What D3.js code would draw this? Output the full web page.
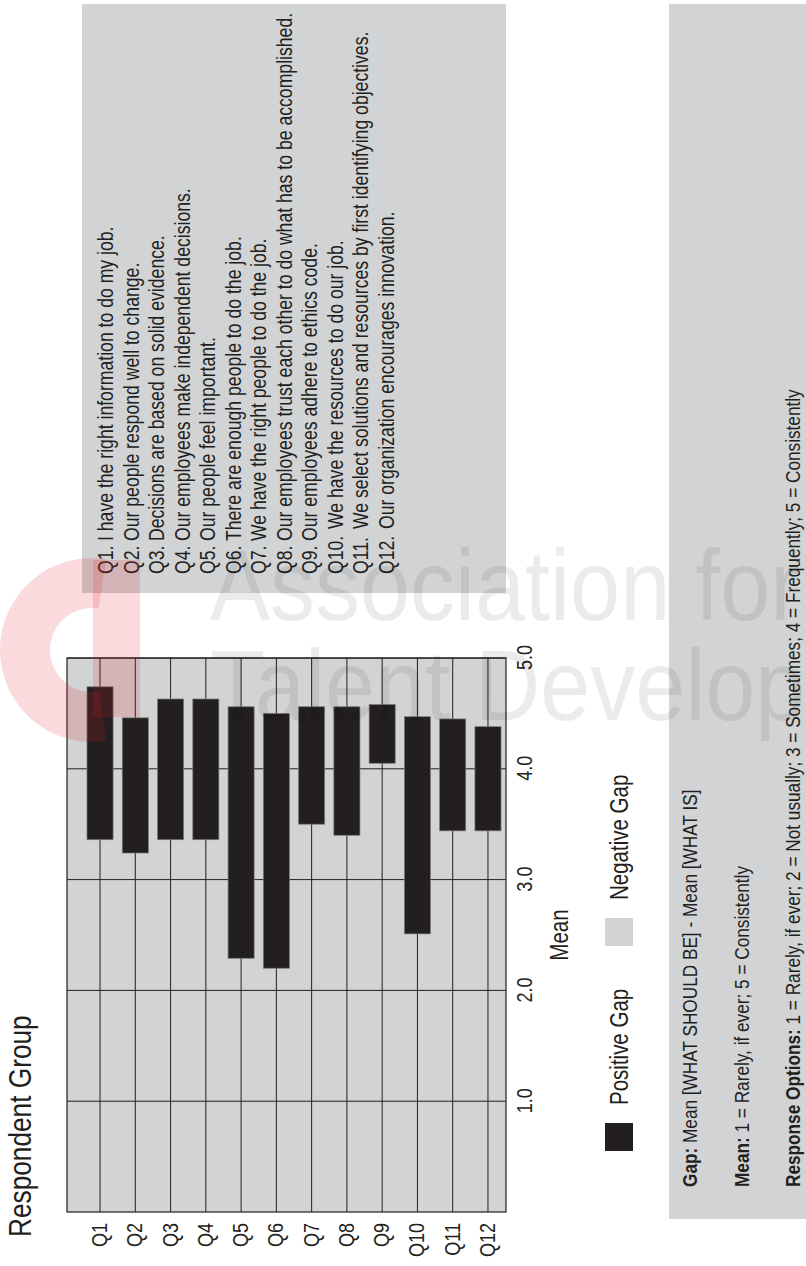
<!DOCTYPE html>
<html>
<head>
<meta charset="utf-8">
<script src="https://cdn.jsdelivr.net/npm/d3@7"></script>
<style>
  html, body { margin: 0; padding: 0; background: #ffffff; }
  svg { display: block; }
</style>
</head>
<body>
<svg id="chart" width="806" height="1266"></svg>
<script>
// ---- data -------------------------------------------------------------
const categories = ["Q1","Q2","Q3","Q4","Q5","Q6","Q7","Q8","Q9","Q10","Q11","Q12"];
const whatIs       = [3.36, 3.24, 3.36, 3.36, 2.29, 2.20, 3.50, 3.40, 4.05, 2.51, 3.44, 3.44];
const whatShouldBe = [4.74, 4.46, 4.63, 4.63, 4.56, 4.50, 4.56, 4.56, 4.58, 4.47, 4.45, 4.38];
const meanTicks = [1, 2, 3, 4, 5];
const meanDomain = [0, 5];

const questionNumbers = ["Q1.","Q2.","Q3.","Q4.","Q5.","Q6.","Q7.","Q8.","Q9.","Q10.","Q11.","Q12."];
const questionTexts = [
  "I have the right information to do my job.",
  "Our people respond well to change.",
  "Decisions are based on solid evidence.",
  "Our employees make independent decisions.",
  "Our people feel important.",
  "There are enough people to do the job.",
  "We have the right people to do the job.",
  "Our employees trust each other to do what has to be accomplished.",
  "Our employees adhere to ethics code.",
  "We have the resources to do our job.",
  "We select solutions and resources by first identifying objectives.",
  "Our organization encourages innovation."
];

const legendLabels = ["Positive Gap", "Negative Gap"];
const noteHeads = ["Gap:", "Mean:", "Response Options:"];
const noteBodies = [
  " Mean [WHAT SHOULD BE] - Mean [WHAT IS]",
  " 1 = Rarely, if ever; 5 = Consistently",
  " 1 = Rarely, if ever; 2 = Not usually; 3 = Sometimes; 4 = Frequently; 5 = Consistently"
];
const chartTitle = "Respondent Group";
const axisTitle = "Mean";
const watermarkLines = ["Association for", "Talent Development"];

// ---- styling ----------------------------------------------------------
const INK = "#231f20";
const PANEL = "#d1d3d4";
const FONT = "'Liberation Sans', Arial, Helvetica, sans-serif";
const NARROW = 0.82;   // horizontal squeeze that gives a condensed face

// place a text at (x, y) and narrow it along its reading direction
function setText(sel, x, y, k = NARROW) {
  return sel.attr("transform", (d, i) => {
    const xx = typeof x === "function" ? x(d, i) : x;
    const yy = typeof y === "function" ? y(d, i) : y;
    return `translate(${xx},${yy}) scale(${k},1)`;
  });
}

// The sheet is laid out in landscape (1266 x 806) and turned a quarter
// turn counter-clockwise onto the portrait page.
const W = 1266, H = 806;
const svg = d3.select("#chart");
const page = svg.append("g").attr("transform", `translate(0,${W}) rotate(-90)`)
  .style("font-family", FONT);

// ---- side panels ------------------------------------------------------
const qPanel = { x0: 673, x1: 1262, y0: 82, y1: 506 };
const notePanel = { x0: 47, x1: 1262, y0: 669, y1: H };
page.append("rect")
  .attr("x", qPanel.x0).attr("y", qPanel.y0)
  .attr("width", qPanel.x1 - qPanel.x0).attr("height", qPanel.y1 - qPanel.y0)
  .attr("fill", PANEL);
page.append("rect")
  .attr("x", notePanel.x0).attr("y", notePanel.y0)
  .attr("width", notePanel.x1 - notePanel.x0).attr("height", notePanel.y1 - notePanel.y0)
  .attr("fill", PANEL);

// ---- plot -------------------------------------------------------------
const plot = { left: 54, right: 608, top: 67, bottom: 506 };
const x = d3.scaleLinear().domain(meanDomain).range([plot.left, plot.right]);
const y = d3.scaleBand().domain(categories)
  .range([82.4, 505.6]).paddingInner(0.26).paddingOuter(0.13);
const mid = c => y(c) + y.bandwidth() / 2;

page.append("rect")
  .attr("x", plot.left).attr("y", plot.top)
  .attr("width", plot.right - plot.left).attr("height", plot.bottom - plot.top)
  .attr("fill", PANEL);

const grid = page.append("g").attr("stroke", INK).attr("stroke-width", 1);
grid.selectAll("line.cat").data(categories).join("line")
  .attr("class", "cat")
  .attr("x1", plot.left).attr("x2", plot.right)
  .attr("y1", d => mid(d)).attr("y2", d => mid(d));
grid.selectAll("line.val").data(meanTicks).join("line")
  .attr("class", "val")
  .attr("x1", d => x(d)).attr("x2", d => x(d))
  .attr("y1", plot.top).attr("y2", plot.bottom);

const rows = categories.map((c, i) => ({ c, is: whatIs[i], should: whatShouldBe[i] }));
page.append("g").selectAll("rect").data(rows).join("rect")
  .attr("x", d => x(Math.min(d.is, d.should)))
  .attr("width", d => Math.abs(x(d.should) - x(d.is)))
  .attr("y", d => y(d.c))
  .attr("height", y.bandwidth())
  .attr("fill", d => d.should >= d.is ? INK : PANEL)
  .attr("stroke", "#7a7a7a").attr("stroke-width", 0.7);

page.append("rect")
  .attr("x", plot.left).attr("y", plot.top)
  .attr("width", plot.right - plot.left).attr("height", plot.bottom - plot.top)
  .attr("fill", "none").attr("stroke", INK).attr("stroke-width", 1.2);

// mean axis
const xAxis = page.append("g")
  .attr("transform", `translate(0,${plot.bottom})`)
  .call(d3.axisBottom(x).tickValues(meanTicks).tickFormat(d3.format(".1f")).tickSize(0));
xAxis.select(".domain").remove();
xAxis.selectAll("text")
  .attr("y", 26).attr("dy", 0)
  .attr("transform", `scale(${NARROW},1)`)
  .attr("fill", INK).style("font-family", FONT).style("font-size", "22px");

// category axis
const yAxis = page.append("g")
  .attr("transform", `translate(43,0)`)
  .call(d3.axisLeft(y).tickSize(0).tickPadding(0));
yAxis.select(".domain").remove();
yAxis.selectAll("text")
  .attr("transform", `scale(${NARROW},1)`)
  .attr("fill", INK).style("font-family", FONT).style("font-size", "22px");

// titles
setText(page.append("text"), 29, 31)
  .attr("fill", INK).style("font-size", "32px")
  .text(chartTitle);
setText(page.append("text"), (plot.left + plot.right) / 2, 568)
  .attr("text-anchor", "middle")
  .attr("fill", INK).style("font-size", "25px")
  .text(axisTitle);

// legend
const legend = page.append("g").attr("transform", "translate(115,605)");
const legendStep = 205, sw = 28;
const li = legend.selectAll("g").data(legendLabels).join("g")
  .attr("transform", (d, i) => `translate(${i * legendStep},0)`);
li.append("rect").attr("width", sw).attr("height", sw)
  .attr("fill", (d, i) => i === 0 ? INK : PANEL);
setText(li.append("text"), sw + 18, sw / 2)
  .attr("dy", "0.35em")
  .attr("fill", INK).style("font-size", "25px")
  .text(d => d);

// question list: number column, then the statement on a tab stop
const qLine0 = 113, qLineStep = 25.5;
const qg = page.append("g").attr("fill", INK).style("font-size", "21.5px");
setText(qg.selectAll("text.num").data(questionNumbers).join("text").attr("class", "num"),
  692, (d, i) => qLine0 + i * qLineStep)
  .text(d => d);
setText(qg.selectAll("text.q").data(questionTexts).join("text").attr("class", "q"),
  (d, i) => questionNumbers[i].length > 3 ? 737 : 725,
  (d, i) => qLine0 + i * qLineStep)
  .text(d => d);

// notes
const noteLine0 = 697, noteStep = 51.5;
const ng = page.append("g").attr("fill", INK).style("font-size", "21px");
const nt = setText(ng.selectAll("text").data(noteHeads).join("text"),
  79, (d, i) => noteLine0 + i * noteStep);
nt.append("tspan").attr("font-weight", "bold").text(d => d);
nt.append("tspan").text((d, i) => noteBodies[i]);

// ---- faint publisher mark across the sheet -----------------------------
const mark = svg.append("g").attr("pointer-events", "none");
const swoosh = d3.arc()({ innerRadius: 42, outerRadius: 92, startAngle: Math.PI * 0.95, endAngle: Math.PI * 2.05 });
mark.append("path")
  .attr("d", swoosh)
  .attr("transform", "translate(92,650)")
  .attr("fill", "#e31b23").attr("opacity", 0.16);
mark.append("rect")
  .attr("x", 93).attr("y", 560).attr("width", 47).attr("height", 157)
  .attr("fill", "#e31b23").attr("opacity", 0.16);
mark.selectAll("text").data(watermarkLines).join("text")
  .attr("transform", (d, i) => `translate(210,${620 + i * 100}) scale(1,1.12)`)
  .attr("fill", "#000").attr("opacity", 0.075)
  .style("font-family", FONT)
  .style("font-size", "90px")
  .text(d => d);
</script>
</body>
</html>
